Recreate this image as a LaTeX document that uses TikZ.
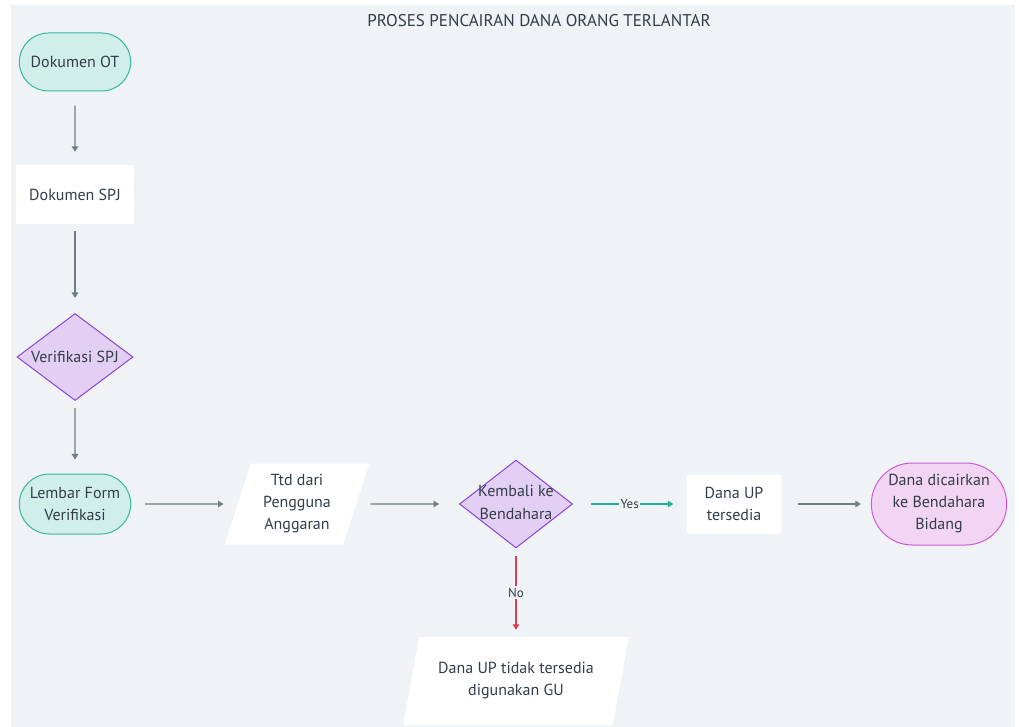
\documentclass[tikz,border=0pt]{standalone}
\usepackage{fontspec}
\setmainfont{PT Sans}
\usepackage{tikz}
\usetikzlibrary{arrows.meta}
\usetikzlibrary{shapes.geometric, shapes.misc}
\definecolor{bgpanel}{HTML}{EFF3F6}
\definecolor{inktext}{HTML}{333D49}
\definecolor{tealfill}{HTML}{D0EFEA}
\definecolor{tealline}{HTML}{38B79E}
\definecolor{purpfill}{HTML}{E2CFF3}
\definecolor{purpline}{HTML}{8B44D6}
\definecolor{pinkfill}{HTML}{F2D4F4}
\definecolor{pinkline}{HTML}{CC5BD8}
\definecolor{arrowgray}{HTML}{6F7C89}
\definecolor{arrowteal}{HTML}{1FB08F}
\definecolor{arrowred}{HTML}{DA3D55}

\begin{document}
\begin{tikzpicture}[x=1pt, y=-1pt,
    every node/.style={text=inktext, font=\fontsize{16}{22}\selectfont},
    terminal/.style={rounded rectangle, draw=tealline, fill=tealfill, line width=1pt, minimum width=118, minimum height=58},
    process/.style={rectangle, fill=white, rounded corners=2pt, minimum width=118, minimum height=59},
    decision/.style={diamond, draw=purpline, fill=purpfill, line width=1pt, inner sep=0pt},
    iobox/.style={trapezium, trapezium stretches=true, trapezium left angle=72, trapezium right angle=108, fill=white, align=center},
    flow/.style={draw=arrowgray, line width=1.2pt, -{Triangle[length=5.5pt,width=6.5pt]}},
    branch/.style={fill=bgpanel, inner sep=1.5pt, font=\fontsize{13}{14}\selectfont}]
                \useasboundingbox (0,0) rectangle (1019,727);
                \fill[bgpanel] (11,5) rectangle (1015,727);
                \node[font=\fontsize{17}{20}\selectfont] (title) at (539,21) {PROSES PENCAIRAN DANA ORANG TERLANTAR};
                % left column
                \node[terminal] (ot) at (75,62) {Dokumen OT};
                \node[process] (spj) at (75,194.5) {Dokumen SPJ};
                \node[decision, minimum width=116, minimum height=87] (verif) at (75,357) {\makebox[0pt]{Verifikasi SPJ}};
                \node[terminal, minimum height=60, align=center] (lembar) at (75,504) {Lembar Form\\Verifikasi};
                % bottom row
                \node[iobox, minimum width=145, minimum height=81] (ttd) at (297,504) {Ttd dari\\Pengguna\\Anggaran};
                \node[decision, minimum width=113, minimum height=88] (kembali) at (516,504) {\makebox[0pt]{\begin{tabular}{@{}c@{}}Kembali ke\\[1pt]Bendahara\end{tabular}}};
                \node[process, minimum width=95, align=center] (tersedia) at (734,504) {Dana UP\\tersedia};
                \node[terminal, draw=pinkline, fill=pinkfill, minimum width=142, minimum height=82, align=center] (cair) at (939,504) {Dana dicairkan\\ke Bendahara\\Bidang};
                \node[iobox, trapezium left angle=73, trapezium right angle=107, minimum width=226, minimum height=88] (tidak) at (516,681) {Dana UP tidak tersedia\\digunakan GU};
                % connectors
                \draw[flow, shorten <=14pt, shorten >=13pt] (ot) -- (spj);
                \draw[flow, shorten <=7pt, shorten >=15pt] (spj) -- (verif);
                \draw[flow, shorten <=7pt, shorten >=14pt] (verif) -- (lembar);
                \draw[flow, shorten <=14pt, shorten >=14pt] (lembar) -- (ttd);
                \draw[flow, shorten <=14pt, shorten >=20pt] (ttd) -- (kembali);
                \draw[flow, draw=arrowteal, shorten <=18pt, shorten >=13pt] (kembali) -- node[branch] (yes) {Yes} (tersedia);
                \draw[flow, shorten <=16pt, shorten >=10pt] (tersedia) -- (cair);
                \draw[flow, draw=arrowred, shorten <=7pt, shorten >=7pt] (kembali) -- node[branch] (no) {No} (tidak);
            \end{tikzpicture}
\end{document}
